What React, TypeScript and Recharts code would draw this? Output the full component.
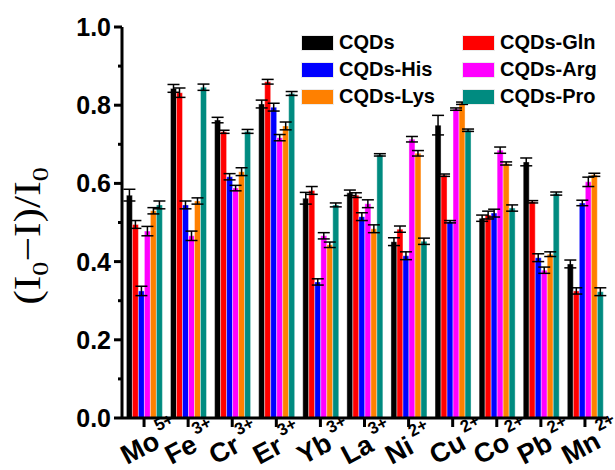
import React from 'react';
import { BarChart, Bar, XAxis, YAxis, ErrorBar, Legend } from 'recharts';

const ions = ['Mo', 'Fe', 'Cr', 'Er', 'Yb', 'La', 'Ni', 'Cu', 'Co', 'Pb', 'Mn'];
const charges = ['5+', '3+', '3+', '3+', '3+', '3+', '2+', '2+', '2+', '2+', '2+'];

const cqds = [0.570, 0.843, 0.762, 0.803, 0.562, 0.576, 0.451, 0.749, 0.511, 0.655, 0.394];
const gln = [0.495, 0.832, 0.732, 0.860, 0.582, 0.570, 0.483, 0.621, 0.519, 0.553, 0.325];
const his = [0.325, 0.545, 0.617, 0.795, 0.348, 0.515, 0.415, 0.502, 0.524, 0.410, 0.550];
const arg = [0.478, 0.466, 0.588, 0.717, 0.466, 0.548, 0.713, 0.790, 0.685, 0.378, 0.604];
const lys = [0.530, 0.555, 0.630, 0.747, 0.443, 0.484, 0.677, 0.805, 0.651, 0.419, 0.622];
const pro = [0.545, 0.846, 0.733, 0.830, 0.545, 0.673, 0.452, 0.736, 0.537, 0.574, 0.323];

const cqdsErr = [0.015, 0.010, 0.007, 0.010, 0.015, 0.007, 0.010, 0.025, 0.008, 0.010, 0.010];
const glnErr = [0.010, 0.012, 0.004, 0.006, 0.010, 0.006, 0.008, 0.003, 0.010, 0.003, 0.008];
const hisErr = [0.012, 0.010, 0.008, 0.010, 0.008, 0.010, 0.010, 0.003, 0.010, 0.010, 0.007];
const argErr = [0.012, 0.012, 0.007, 0.008, 0.008, 0.010, 0.007, 0.003, 0.008, 0.008, 0.012];
const lysErr = [0.008, 0.008, 0.010, 0.010, 0.007, 0.010, 0.007, 0.003, 0.004, 0.006, 0.004];
const proErr = [0.010, 0.008, 0.005, 0.005, 0.005, 0.003, 0.008, 0.003, 0.008, 0.004, 0.010];

const seriesNames = ['CQDs', 'CQDs-Gln', 'CQDs-His', 'CQDs-Arg', 'CQDs-Lys', 'CQDs-Pro'];
const seriesColors = ['#000000', '#ff0000', '#0000ff', '#ff00ff', '#ff8000', '#008b80'];
const seriesValues = [cqds, gln, his, arg, lys, pro];
const seriesErrors = [cqdsErr, glnErr, hisErr, argErr, lysErr, proErr];

const yTicks = [0, 0.1, 0.2, 0.3, 0.4, 0.5, 0.6, 0.7, 0.8, 0.9, 1.0];

const data = ions.map((ion, i) => {
  const row: Record<string, any> = { ion };
  seriesNames.forEach((n, s) => {
    row[n] = seriesValues[s][i];
    row[n + '_err'] = seriesErrors[s][i];
  });
  return row;
});

const SANS = '"Liberation Sans", Arial, sans-serif';

const YTick = (props: any) => {
  const { x, y, payload } = props;
  const v = payload.value;
  const major = Math.round(v * 10) % 2 === 0;
  return (
    <g>
      <line x1={x - (major ? 8 : 4)} x2={x} y1={y} y2={y} stroke="#000" strokeWidth={3} />
      {major && (
        <text x={x - 11} y={y} dy="0.36em" textAnchor="end" fontFamily={SANS} fontWeight="bold" fontSize={25} fill="#000">
          {v.toFixed(1)}
        </text>
      )}
    </g>
  );
};

const XTick = (props: any) => {
  const { x, payload } = props;
  const i = ions.indexOf(payload.value);
  const x0 = x - 17;
  const y0 = 465;
  return (
    <g>
      <text x={x0} y={y0} transform={`rotate(-28 ${x0} ${y0})`} textAnchor="start" fontFamily={SANS} fontWeight="bold" fontSize={27} fill="#000">
        {ions[i]}
        <tspan dx={4} dy={-15} fontSize={17}>{charges[i]}</tspan>
      </text>
    </g>
  );
};

const YLabel = () => (
  <text transform="translate(40,236) rotate(-90) scale(1.18,1)" textAnchor="middle" fontFamily='"Liberation Serif", "Times New Roman", serif' fontSize={37} fill="#000">
    (I<tspan dy={8} fontSize={24}>0</tspan><tspan dy={-8}>−I)/I</tspan><tspan dy={8} fontSize={24}>0</tspan>
  </text>
);

const renderLegend = () => (
  <div style={{ display: 'grid', gridTemplateColumns: '161px 150px', rowGap: 6 }}>
    {seriesNames.map((n, s) => (
      <div key={n} style={{ display: 'flex', alignItems: 'center', height: 21 }}>
        <div style={{ width: 31, height: 14, background: seriesColors[s], marginRight: 6, boxShadow: '0 0 0 1px rgba(0,0,0,0.08)' }} />
        <span style={{ fontFamily: SANS, fontWeight: 'bold', fontSize: 20, color: '#000', whiteSpace: 'nowrap' }}>{n}</span>
      </div>
    ))}
  </div>
);

export default function App() {
  return (
    <div style={{ position: 'absolute', left: 0, top: 0, width: 615, height: 470, background: '#fff' }}>
      <BarChart width={615} height={470} data={data} margin={{ top: 27, right: 8, left: 0, bottom: 0 }} barCategoryGap="10%" barGap={0}>
        <XAxis dataKey="ion" height={52} tick={<XTick />} interval={0} tickSize={9} tickLine={{ stroke: '#000', strokeWidth: 3 }} axisLine={{ stroke: '#000', strokeWidth: 3 }} />
        <XAxis xAxisId="top" dataKey="ion" orientation="top" height={0} tick={false} tickLine={false} axisLine={{ stroke: '#000', strokeWidth: 3 }} />
        <YAxis width={122} domain={[0, 1]} ticks={yTicks} interval={0} tick={<YTick />} tickSize={0} tickMargin={0} tickLine={false} axisLine={{ stroke: '#000', strokeWidth: 3 }} label={{ content: <YLabel /> }} />
        <YAxis yAxisId="right" orientation="right" width={0} domain={[0, 1]} tick={false} tickLine={false} axisLine={{ stroke: '#000', strokeWidth: 3 }} />
        <Legend layout="horizontal" verticalAlign="middle" align="center" content={renderLegend} wrapperStyle={{ position: 'absolute', top: 32, left: 302, width: 320 }} />
        {seriesNames.map((n, s) => (
          <Bar key={n} dataKey={n} fill={seriesColors[s]} isAnimationActive={false} stroke="#ffffff" strokeWidth={0.4}>
            <ErrorBar dataKey={n + '_err'} width={6} stroke="#000" strokeWidth={1.5} direction="y" />
          </Bar>
        ))}
      </BarChart>
    </div>
  );
}
